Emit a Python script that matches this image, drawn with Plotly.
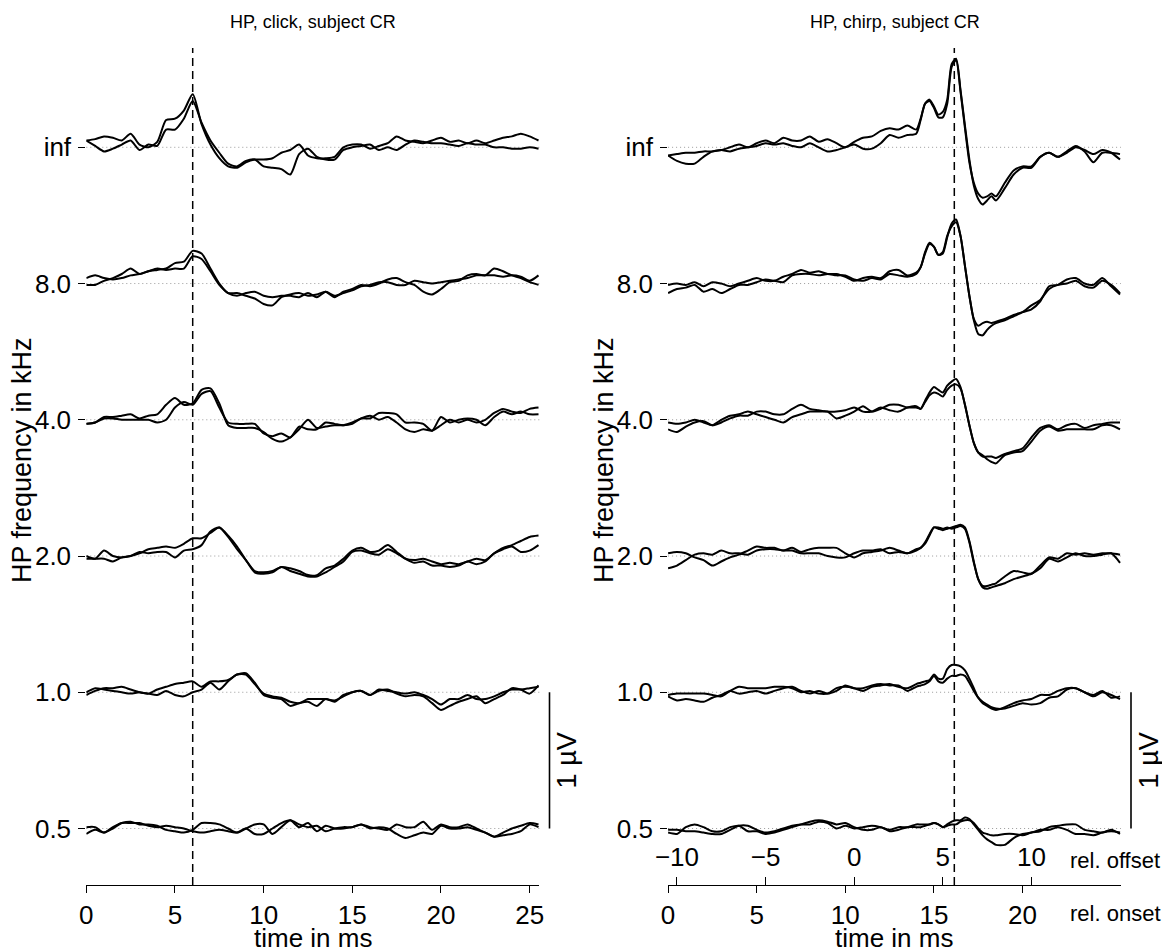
import plotly.graph_objects as go

# ---------------- data (µV, relative to each row's baseline) ----------------
row_labels = ["0.5", "1.0", "2.0", "4.0", "8.0", "inf"]   # HP frequency in kHz (bottom -> top)
x_ticks_click = [0, 5, 10, 15, 20, 25]
x_ticks_chirp = [0, 5, 10, 15, 20]
offset_ticks = [-10, -5, 0, 5, 10]
chirp_duration = 10.5      # ms, onset -> offset shift
click_latency = 6.0        # ms, dashed marker left
chirp_latency = 16.15      # ms, dashed marker right
scale_bar_uv = 1.0

t_click = [0.0, 0.5, 1.0, 1.5, 2.0, 2.5, 3.0, 3.5, 4.0, 4.5, 5.0, 5.5, 6.0, 6.5, 7.0, 7.5,
           8.0, 8.5, 9.0, 9.5, 10.0, 10.5, 11.0, 11.5, 12.0, 12.5, 13.0, 13.5, 14.0, 14.5,
           15.0, 15.5, 16.0, 16.5, 17.0, 17.5, 18.0, 18.5, 19.0, 19.5, 20.0, 20.5, 21.0,
           21.5, 22.0, 22.5, 23.0, 23.5, 24.0, 24.5, 25.0, 25.5]
t_chirp = [0.0, 0.5, 1.0, 1.5, 2.0, 2.5, 3.0, 3.5, 4.0, 4.5, 5.0, 5.5, 6.0, 6.5, 7.0, 7.5,
           8.0, 8.5, 9.0, 9.5, 10.0, 10.5, 11.0, 11.5, 12.0, 12.5, 13.0, 13.5,
           14.0, 14.25, 14.5, 14.75, 15.0, 15.25, 15.5, 15.75, 16.0, 16.25, 16.5, 16.75,
           17.0, 17.25, 17.5, 17.75, 18.0, 18.25, 18.5,
           19.0, 19.5, 20.0, 20.5, 21.0, 21.5, 22.0, 22.5, 23.0, 23.5, 24.0, 24.5, 25.0, 25.5]

# click, left panel
click_inf_a = [0.05, 0.06, 0.08, 0.07, 0.05, 0.10, 0.02, 0.00, 0.04, 0.20, 0.21, 0.27, 0.39, 0.17, 0.02, -0.08,
               -0.14, -0.15, -0.11, -0.09, -0.09, -0.08, -0.04, -0.02, 0.02, -0.06, -0.08, -0.08, -0.07, 0.00,
               0.02, 0.02, -0.01, 0.01, 0.03, 0.08, 0.05, 0.04, 0.03, 0.05, 0.07, 0.04, 0.05, 0.03, 0.05, 0.03,
               0.05, 0.07, 0.08, 0.10, 0.08, 0.05]
click_inf_b = [0.05, 0.01, -0.03, -0.01, 0.02, 0.05, -0.02, 0.02, 0.01, 0.13, 0.13, 0.21, 0.34, 0.18, 0.05, -0.04,
               -0.12, -0.14, -0.10, -0.09, -0.14, -0.15, -0.16, -0.20, -0.05, -0.01, -0.07, -0.09, -0.09, -0.02,
               0.00, 0.01, 0.02, -0.02, 0.00, -0.02, 0.02, 0.05, 0.04, 0.03, 0.03, 0.02, 0.01, 0.03, 0.02, 0.02,
               0.00, 0.00, -0.01, -0.01, 0.00, -0.01]
click_8_a = [0.04, 0.06, 0.04, 0.03, 0.04, 0.06, 0.07, 0.09, 0.10, 0.11, 0.15, 0.16, 0.24, 0.22, 0.11, 0.00,
             -0.07, -0.07, -0.09, -0.11, -0.15, -0.16, -0.10, -0.08, -0.07, -0.09, -0.08, -0.06, -0.10, -0.06,
             -0.04, -0.01, -0.02, 0.00, 0.03, 0.04, 0.01, -0.01, -0.06, -0.08, -0.04, 0.01, 0.02, 0.06, 0.07,
             0.06, 0.11, 0.09, 0.06, 0.04, 0.01, -0.01]
click_8_b = [-0.01, -0.01, 0.02, 0.04, 0.07, 0.11, 0.07, 0.09, 0.11, 0.10, 0.11, 0.11, 0.20, 0.18, 0.09, -0.01,
             -0.07, -0.09, -0.07, -0.06, -0.09, -0.10, -0.09, -0.09, -0.10, -0.07, -0.10, -0.06, -0.09, -0.07,
             -0.05, -0.02, -0.01, 0.01, 0.01, -0.01, -0.01, 0.02, 0.01, 0.00, 0.01, 0.02, 0.03, 0.04, 0.06,
             0.06, 0.06, 0.05, 0.06, 0.05, 0.02, 0.06]
click_4_a = [-0.03, -0.02, 0.02, 0.02, 0.03, 0.04, 0.01, 0.03, 0.04, 0.11, 0.16, 0.11, 0.12, 0.22, 0.23, 0.12,
             -0.04, -0.06, -0.06, -0.06, -0.09, -0.14, -0.16, -0.13, -0.07, 0.00, -0.06, -0.05, -0.04, -0.04,
             -0.02, 0.01, 0.03, 0.00, 0.02, -0.02, -0.07, -0.09, -0.07, -0.08, -0.04, 0.00, -0.02, 0.00, -0.02,
             0.00, 0.05, 0.08, 0.06, 0.05, 0.08, 0.09]
click_4_b = [-0.03, -0.02, 0.01, 0.01, 0.00, 0.00, 0.00, 0.00, -0.02, 0.00, 0.09, 0.13, 0.11, 0.19, 0.21, 0.09,
             -0.02, -0.03, -0.03, -0.03, -0.10, -0.12, -0.10, -0.13, -0.05, -0.07, -0.07, -0.02, -0.03, -0.04,
             -0.03, 0.01, 0.01, 0.05, 0.05, 0.04, -0.02, -0.02, -0.03, -0.08, 0.02, -0.02, 0.00, 0.01, 0.00,
             -0.04, 0.02, 0.06, 0.04, 0.06, 0.04, 0.04]
click_2_a = [0.00, -0.02, 0.04, 0.00, -0.01, 0.00, 0.02, 0.05, 0.06, 0.07, 0.06, 0.09, 0.13, 0.13, 0.17, 0.21,
             0.14, 0.05, -0.03, -0.11, -0.12, -0.11, -0.08, -0.09, -0.11, -0.14, -0.14, -0.09, -0.07, -0.02,
             0.04, 0.06, 0.03, 0.04, 0.08, 0.03, -0.02, -0.03, -0.02, -0.04, -0.06, -0.05, -0.06, -0.04, -0.02,
             -0.03, 0.02, 0.06, 0.08, 0.11, 0.14, 0.15]
click_2_b = [-0.02, -0.02, -0.02, -0.04, -0.01, 0.00, 0.03, 0.02, 0.03, 0.03, -0.01, 0.04, 0.05, 0.08, 0.18, 0.21,
             0.15, 0.07, -0.03, -0.12, -0.13, -0.12, -0.08, -0.11, -0.13, -0.15, -0.15, -0.12, -0.08, -0.04,
             0.03, 0.04, 0.02, 0.01, 0.05, 0.02, -0.02, -0.05, -0.04, -0.07, -0.07, -0.08, -0.07, -0.04, -0.06,
             -0.04, 0.02, 0.05, 0.07, 0.03, 0.04, 0.08]
click_1_a = [0.00, 0.03, 0.02, 0.01, 0.00, -0.01, 0.00, -0.01, 0.02, 0.04, 0.06, 0.07, 0.08, 0.04, 0.08, 0.08,
             0.09, 0.13, 0.14, 0.07, -0.02, -0.04, -0.05, -0.10, -0.08, -0.07, -0.10, -0.05, -0.07, -0.02,
             0.00, 0.01, -0.02, 0.01, 0.02, -0.01, -0.03, -0.02, -0.03, -0.08, -0.13, -0.10, -0.07, -0.05,
             -0.03, -0.08, -0.05, -0.02, 0.03, 0.02, -0.01, 0.05]
click_1_b = [-0.02, 0.01, 0.03, 0.03, 0.04, 0.02, 0.00, -0.01, -0.02, 0.01, -0.02, -0.03, 0.00, 0.02, 0.07, 0.02,
             0.08, 0.13, 0.13, 0.06, -0.01, -0.03, -0.04, -0.07, -0.08, -0.05, -0.05, -0.05, -0.06, -0.03,
             0.00, 0.01, -0.02, 0.02, 0.01, 0.00, -0.01, 0.00, -0.02, -0.05, -0.09, -0.05, -0.05, -0.02, -0.05,
             -0.05, -0.03, 0.00, 0.02, 0.02, 0.03, 0.04]
click_05_a = [0.01, 0.01, -0.03, 0.01, 0.04, 0.05, 0.03, 0.03, 0.02, -0.01, -0.02, -0.03, -0.01, 0.04, 0.04, 0.03,
              0.00, -0.03, 0.00, 0.03, 0.03, -0.04, 0.01, 0.06, 0.03, 0.01, 0.02, -0.02, 0.00, 0.01, 0.01, 0.03,
              0.01, 0.00, -0.01, 0.03, 0.01, 0.01, 0.05, -0.01, 0.03, 0.01, 0.01, 0.03, 0.00, -0.03, -0.06,
              -0.03, 0.00, 0.02, 0.04, 0.03]
click_05_b = [-0.04, -0.01, -0.03, 0.00, 0.04, 0.04, 0.04, 0.02, 0.01, 0.02, 0.01, 0.00, -0.02, -0.03, -0.02,
              -0.01, -0.02, -0.03, 0.00, -0.04, -0.04, 0.00, 0.04, 0.06, 0.01, 0.04, -0.02, 0.02, 0.00, 0.00,
              0.01, 0.03, 0.00, 0.01, 0.00, -0.04, -0.07, -0.05, -0.03, -0.04, 0.02, 0.00, 0.00, 0.01, -0.01,
              -0.03, -0.06, -0.05, -0.04, -0.02, 0.03, 0.01]

# chirp, right panel
chirp_inf_a = [-0.06, -0.05, -0.04, -0.04, -0.03, -0.03, -0.02, -0.03, -0.01, 0.00,
               0.01, 0.03, 0.02, 0.03, 0.01, 0.00, 0.03, 0.00, -0.03, -0.02,
               0.00, 0.02, -0.01, -0.01, 0.03, 0.09, 0.07, 0.09,
               0.10, 0.20, 0.32, 0.34, 0.29, 0.22, 0.22, 0.32, 0.59, 0.64,
               0.41, 0.14, -0.11, -0.26, -0.34, -0.37, -0.36, -0.34, -0.36,
               -0.26, -0.17, -0.14, -0.14, -0.07, -0.04, -0.07, -0.03, 0.01, -0.03,
               -0.11, -0.04, -0.04, -0.05]
chirp_inf_b = [-0.06, -0.10, -0.12, -0.12, -0.07, -0.03, -0.02, 0.00, 0.02, 0.00,
               0.03, 0.05, 0.03, 0.07, 0.05, 0.05, 0.08, 0.04, 0.06, 0.03,
               0.00, 0.04, 0.07, 0.08, 0.12, 0.14, 0.13, 0.16,
               0.13, 0.21, 0.32, 0.35, 0.30, 0.24, 0.26, 0.35, 0.61, 0.65,
               0.42, 0.16, -0.09, -0.28, -0.38, -0.42, -0.39, -0.36, -0.39,
               -0.30, -0.20, -0.15, -0.15, -0.07, -0.04, -0.07, -0.04, 0.00, -0.02,
               -0.05, -0.02, -0.04, -0.09]
chirp_8_a = [-0.01, 0.00, -0.01, 0.01, -0.02, 0.01, 0.00, -0.02, 0.00, 0.02,
             0.04, 0.02, 0.02, 0.05, 0.07, 0.10, 0.08, 0.09, 0.07, 0.07,
             0.05, 0.02, 0.04, 0.05, 0.04, 0.09, 0.10, 0.06,
             0.08, 0.12, 0.23, 0.30, 0.27, 0.21, 0.22, 0.34, 0.44, 0.47,
             0.35, 0.13, -0.09, -0.26, -0.31, -0.29, -0.28, -0.29, -0.28,
             -0.26, -0.23, -0.21, -0.19, -0.13, -0.02, -0.01, 0.03, 0.04, 0.00,
             -0.01, 0.04, -0.02, -0.08]
chirp_8_b = [-0.07, -0.04, -0.03, -0.01, -0.06, -0.04, -0.07, -0.04, -0.01, -0.01,
             0.01, 0.03, 0.02, 0.01, 0.06, 0.07, 0.07, 0.06, 0.07, 0.06,
             0.06, 0.03, 0.02, 0.04, 0.03, 0.07, 0.06, 0.05,
             0.07, 0.12, 0.22, 0.29, 0.27, 0.21, 0.23, 0.35, 0.42, 0.45,
             0.35, 0.13, -0.09, -0.27, -0.37, -0.38, -0.34, -0.31, -0.29,
             -0.27, -0.24, -0.21, -0.16, -0.12, -0.04, -0.01, 0.00, 0.02, -0.02,
             -0.03, 0.02, -0.01, -0.07]
chirp_4_a = [-0.02, -0.03, -0.02, 0.00, -0.02, -0.04, 0.00, 0.03, 0.04, 0.06,
             0.04, 0.02, 0.00, -0.02, 0.02, 0.04, 0.06, 0.06, 0.06, 0.01,
             0.03, 0.06, 0.10, 0.06, 0.08, 0.11, 0.11, 0.09,
             0.09, 0.08, 0.14, 0.20, 0.24, 0.22, 0.20, 0.25, 0.28, 0.30,
             0.24, 0.11, -0.04, -0.17, -0.24, -0.27, -0.27, -0.27, -0.28,
             -0.25, -0.23, -0.21, -0.13, -0.06, -0.04, -0.07, -0.04, -0.03, -0.06,
             -0.04, -0.03, -0.02, -0.02]
chirp_4_b = [-0.07, -0.09, -0.05, -0.02, -0.01, -0.04, -0.02, 0.01, 0.03, 0.03,
             0.06, 0.06, 0.04, 0.04, 0.08, 0.11, 0.08, 0.07, 0.06, 0.06,
             0.07, 0.09, 0.06, 0.06, 0.09, 0.07, 0.06, 0.09,
             0.10, 0.08, 0.13, 0.18, 0.20, 0.19, 0.17, 0.22, 0.25, 0.26,
             0.23, 0.11, -0.04, -0.17, -0.24, -0.26, -0.29, -0.31, -0.32,
             -0.26, -0.24, -0.23, -0.16, -0.08, -0.05, -0.08, -0.07, -0.07, -0.07,
             -0.07, -0.04, -0.04, -0.07]
chirp_2_a = [0.02, 0.03, 0.02, -0.01, -0.03, -0.07, -0.04, -0.01, 0.01, 0.04,
             0.07, 0.06, 0.06, 0.04, 0.06, 0.03, 0.05, 0.06, 0.06, 0.06,
             0.02, -0.01, 0.02, 0.03, 0.04, 0.06, 0.04, 0.02,
             0.05, 0.06, 0.10, 0.16, 0.21, 0.20, 0.19, 0.20, 0.21, 0.22,
             0.23, 0.21, 0.11, -0.04, -0.17, -0.22, -0.22, -0.21, -0.20,
             -0.15, -0.11, -0.12, -0.13, -0.07, -0.01, -0.02, 0.02, 0.01, 0.02,
             0.01, 0.02, 0.02, 0.01]
chirp_2_b = [-0.09, -0.07, -0.03, 0.01, 0.02, 0.01, 0.04, 0.02, 0.02, 0.01,
             0.04, 0.05, 0.05, 0.04, 0.04, 0.02, 0.02, 0.02, 0.00, -0.01,
             -0.01, 0.02, 0.04, 0.04, 0.05, 0.02, 0.03, 0.02,
             0.04, 0.06, 0.09, 0.15, 0.21, 0.21, 0.20, 0.21, 0.20, 0.21,
             0.22, 0.20, 0.10, -0.05, -0.17, -0.23, -0.24, -0.23, -0.22,
             -0.20, -0.17, -0.15, -0.13, -0.09, -0.02, -0.04, -0.01, 0.02, 0.00,
             0.00, 0.01, 0.02, -0.05]
chirp_1_a = [-0.02, -0.01, -0.01, -0.01, -0.01, -0.02, -0.03, 0.01, 0.04, 0.03,
             0.03, 0.03, 0.04, 0.04, 0.03, 0.00, 0.01, -0.01, -0.01, 0.03,
             0.04, 0.03, 0.01, 0.04, 0.05, 0.06, 0.04, 0.03,
             0.06, 0.07, 0.08, 0.09, 0.13, 0.10, 0.10, 0.17, 0.20, 0.20,
             0.19, 0.16, 0.10, 0.03, -0.04, -0.07, -0.09, -0.11, -0.12,
             -0.12, -0.10, -0.08, -0.09, -0.08, -0.04, -0.03, 0.02, 0.03, 0.00,
             -0.02, 0.01, -0.04, -0.03]
chirp_1_b = [-0.03, -0.06, -0.05, -0.06, -0.07, -0.04, -0.02, 0.01, -0.01, 0.00,
             0.01, -0.01, 0.01, 0.03, 0.04, 0.01, -0.01, 0.01, -0.01, 0.01,
             0.05, 0.03, 0.03, 0.05, 0.06, 0.05, 0.05, 0.01,
             0.04, 0.05, 0.06, 0.08, 0.12, 0.08, 0.07, 0.10, 0.12, 0.12,
             0.13, 0.12, 0.07, 0.01, -0.04, -0.08, -0.10, -0.12, -0.13,
             -0.11, -0.08, -0.06, -0.05, -0.02, -0.02, 0.01, 0.03, 0.03, 0.00,
             -0.03, 0.00, -0.02, -0.05]
chirp_05_a = [-0.03, -0.04, 0.01, 0.03, 0.01, -0.02, -0.02, 0.01, 0.02, -0.02,
              -0.02, -0.04, -0.03, -0.01, 0.01, 0.03, 0.05, 0.06, 0.05, 0.03,
              0.04, 0.01, -0.01, -0.01, 0.01, -0.02, -0.01, 0.01,
              0.01, 0.01, 0.02, 0.03, 0.04, 0.03, 0.01, 0.02, 0.03, 0.03,
              0.05, 0.06, 0.06, 0.04, 0.00, -0.03, -0.04, -0.05, -0.05,
              -0.04, -0.04, -0.05, -0.03, -0.02, 0.01, 0.02, 0.03, 0.03, -0.01,
              -0.02, -0.03, -0.01, -0.04]
chirp_05_b = [-0.01, -0.01, -0.02, -0.02, -0.03, -0.04, -0.04, -0.01, 0.02, 0.02,
              -0.01, -0.03, -0.02, 0.00, 0.02, 0.03, 0.03, 0.05, 0.04, 0.00,
              0.02, 0.00, 0.01, 0.02, 0.01, -0.01, 0.01, 0.01,
              0.03, 0.03, 0.03, 0.03, 0.04, 0.03, 0.01, 0.03, 0.05, 0.06,
              0.06, 0.08, 0.07, 0.03, -0.01, -0.05, -0.08, -0.10, -0.12,
              -0.12, -0.07, -0.04, -0.03, -0.01, -0.01, 0.01, -0.01, -0.04, -0.04,
              -0.05, -0.03, -0.02, -0.03]

click_rows = [(click_05_a, click_05_b), (click_1_a, click_1_b), (click_2_a, click_2_b),
              (click_4_a, click_4_b), (click_8_a, click_8_b), (click_inf_a, click_inf_b)]
chirp_rows = [(chirp_05_a, chirp_05_b), (chirp_1_a, chirp_1_b), (chirp_2_a, chirp_2_b),
              (chirp_4_a, chirp_4_b), (chirp_8_a, chirp_8_b), (chirp_inf_a, chirp_inf_b)]

# ---------------- layout geometry ----------------
PAGE_W, PAGE_H = 1170, 951
BODY = 8                       # default browser body margin before the plot div
W, H = PAGE_W - BODY, PAGE_H - BODY
FONT = "Liberation Sans, Arial, Helvetica, sans-serif"
row_step = 1.0                 # vertical spacing between rows (µV)
x_max = 25.55

def px(x):                     # page pixel -> paper fraction
    return (x - BODY) / W

def py(y):
    return 1 - (y - BODY) / H

Y_TOP_PX, Y_BOT_PX, BASE0_PX, BASE5_PX = 48, 885, 828.5, 147.3
upx = (BASE0_PX - BASE5_PX) / 5
y_range = [-(Y_BOT_PX - BASE0_PX) / upx, (BASE0_PX - Y_TOP_PX) / upx]

dom_left = [px(86.3), px(539.4)]
dom_right = [px(668.1), px(1120.9)]
dom_y = [py(Y_BOT_PX), py(Y_TOP_PX)]

fig = go.Figure()
line_style = dict(color="black", width=2.0, shape="spline", smoothing=0.7)

for i, (a, b) in enumerate(click_rows):
    off = i * row_step
    for s in (a, b):
        fig.add_trace(go.Scatter(x=t_click, y=[v + off for v in s], mode="lines",
                                 line=line_style, xaxis="x", yaxis="y",
                                 showlegend=False, hoverinfo="skip"))
for i, (a, b) in enumerate(chirp_rows):
    off = i * row_step
    for s in (a, b):
        fig.add_trace(go.Scatter(x=t_chirp, y=[v + off for v in s], mode="lines",
                                 line=line_style, xaxis="x2", yaxis="y2",
                                 showlegend=False, hoverinfo="skip"))
# empty trace to register the offset axis
fig.add_trace(go.Scatter(x=[], y=[], xaxis="x3", yaxis="y2", showlegend=False, hoverinfo="skip"))

tickfont = dict(family=FONT, size=26, color="black")
xcommon = dict(range=[0, x_max], showline=True, linecolor="black", linewidth=1.3,
               ticks="outside", ticklen=7, tickwidth=1.3, tickcolor="black",
               showgrid=False, zeroline=False, tickfont=tickfont,
               ticklabelstandoff=0, automargin=False, fixedrange=True)
ycommon = dict(range=y_range, domain=dom_y, tickvals=[i * row_step for i in range(len(row_labels))],
               ticktext=row_labels, ticks="outside", ticklen=7, tickwidth=1.3, tickcolor="black",
               showline=False, showgrid=False, zeroline=False, tickfont=tickfont,
               ticklabelstandoff=2, automargin=False, fixedrange=True)

fig.update_layout(
    template="none",
    width=W, height=H, margin=dict(l=0, r=0, t=0, b=0, pad=0), autosize=False,
    plot_bgcolor="white", paper_bgcolor="white", showlegend=False,
    font=dict(family=FONT, color="black"),
    xaxis=dict(domain=dom_left, anchor="y", tickvals=x_ticks_click, **xcommon),
    yaxis=dict(anchor="x", **ycommon),
    xaxis2=dict(domain=dom_right, anchor="y2", tickvals=x_ticks_chirp, **xcommon),
    yaxis2=dict(anchor="x2", **ycommon),
    xaxis3=dict(domain=dom_right, overlaying="x2", side="top", anchor="free", position=dom_y[0],
                range=[-chirp_duration, x_max - chirp_duration], tickvals=offset_ticks,
                ticks="outside", ticklen=8, tickwidth=1.3, tickcolor="black", showline=False,
                showgrid=False, zeroline=False, tickfont=tickfont, ticklabelstandoff=1,
                automargin=False, fixedrange=True),
)

shapes = []
for xr, yr in (("x", "y"), ("x2", "y2")):
    for i in range(len(row_labels)):
        shapes.append(dict(type="line", xref=xr + " domain", x0=0, x1=1, yref=yr,
                           y0=i * row_step, y1=i * row_step,
                           line=dict(color="#9a9a9a", width=1, dash="1px,3px"), layer="below"))
shapes.append(dict(type="line", xref="x", x0=click_latency, x1=click_latency, yref="y domain", y0=0, y1=1,
                   line=dict(color="black", width=1.5, dash="8px,5px")))
shapes.append(dict(type="line", xref="x2", x0=chirp_latency, x1=chirp_latency, yref="y2 domain", y0=0, y1=1,
                   line=dict(color="black", width=1.5, dash="8px,5px")))
# 1 µV scale bars
for xpix, yr in ((549.5, "y"), (1131.0, "y2")):
    shapes.append(dict(type="line", xref="paper", x0=px(xpix), x1=px(xpix), yref=yr,
                       y0=0, y1=scale_bar_uv, line=dict(color="black", width=1.6)))
fig.update_layout(shapes=shapes)

ann = []
big = dict(family=FONT, size=27, color="black")
ctr = dict(showarrow=False, xanchor="center", yanchor="middle")
ann.append(dict(text="HP, click, subject CR", xref="paper", yref="paper", x=px(313), y=py(22),
                font=dict(family=FONT, size=18, color="black"), **ctr))
ann.append(dict(text="HP, chirp, subject CR", xref="paper", yref="paper", x=px(895), y=py(22),
                font=dict(family=FONT, size=18, color="black"), **ctr))
for xc in (313, 894):
    ann.append(dict(text="time in ms", xref="paper", yref="paper", x=px(xc), y=py(938),
                    font=dict(family=FONT, size=26, color="black"), **ctr))
for xc in (22, 604):
    ann.append(dict(text="HP frequency in kHz", xref="paper", yref="paper", x=px(xc), y=py(460),
                    textangle=-90, font=big, **ctr))
for xc, yr in ((567, "y"), (1149, "y2")):
    ann.append(dict(text="1 µV", xref="paper", yref=yr, x=px(xc), y=scale_bar_uv / 2,
                    textangle=-90, font=big, **ctr))
ann.append(dict(text="rel. offset", xref="paper", yref="paper", x=px(1068), y=py(860),
                xanchor="left", yanchor="middle", showarrow=False,
                font=dict(family=FONT, size=22, color="black")))
ann.append(dict(text="rel. onset", xref="paper", yref="paper", x=px(1068), y=py(913),
                xanchor="left", yanchor="middle", showarrow=False,
                font=dict(family=FONT, size=22, color="black")))
fig.update_layout(annotations=ann)

fig.write_html("out.html")
